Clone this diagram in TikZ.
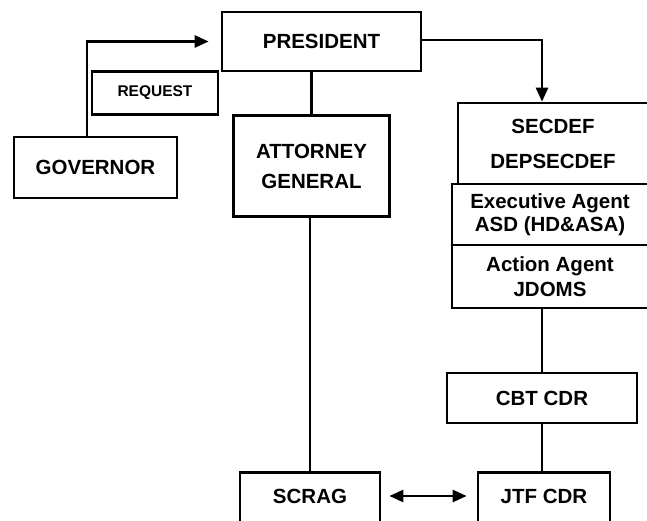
\documentclass[tikz,border=0pt]{standalone}
\usepackage{fontspec}
\setmainfont{Liberation Sans}
\usetikzlibrary{arrows.meta,calc}
\tikzset{
  box/.style={draw=black, line width=2.7pt, fill=white, inner sep=0pt, align=center,
    font=\fontsize{20.5}{30}\selectfont\bfseries},
  txt/.style={inner sep=0pt, align=center, font=\fontsize{20.5}{30}\selectfont\bfseries},
  conn/.style={draw=black, line width=2.7pt},
  arr/.style={conn, -{Triangle[length=14pt,width=12pt]}},
  dbl/.style={conn, {Triangle[length=14pt,width=12pt]}-{Triangle[length=14pt,width=12pt]}}
}
\begin{document}
\begin{tikzpicture}[x=1pt,y=-1pt]
\useasboundingbox (0,0) rectangle (647,521);
\clip (0,0) rectangle (647,521);
\fill[white] (0,0) rectangle (647,521);
% nodes
\node[box, minimum width=199pt, minimum height=59pt] (pres) at (321.5,41.5) {PRESIDENT};
\node[box, minimum width=126pt, minimum height=43pt, font=\fontsize{15.5}{18}\selectfont\bfseries] (req) at (155,93) {REQUEST};
\node[box, minimum width=163pt, minimum height=61pt] (gov) at (95.5,167.5) {GOVERNOR};
\node[box, minimum width=156pt, minimum height=101pt] (att) at (311.5,166) {ATTORNEY\\GENERAL};
\node[box, minimum width=190pt, minimum height=81pt, font=\fontsize{20.5}{35}\selectfont\bfseries] (sec) at (553,143.5) {SECDEF\\DEPSECDEF};
\node[box, minimum width=196pt, minimum height=61pt, font=\fontsize{20.5}{22.5}\selectfont\bfseries] (exe) at (550,214.5) {Executive Agent\\ASD (HD\&ASA)};
\node[box, minimum width=196pt, minimum height=63pt, font=\fontsize{20.5}{25}\selectfont\bfseries] (act) at (550,276.5) {Action Agent\\JDOMS};
\node[box, minimum width=190pt, minimum height=50pt] (cbt) at (542,398) {CBT CDR};
\node[box, minimum width=140pt, minimum height=62pt, anchor=north] (scrag) at (310,471) {};
\node[txt] (scragt) at (310,496) {SCRAG};
\node[box, minimum width=132pt, minimum height=62pt, anchor=north] (jtf) at (544,471) {};
\node[txt] (jtft) at (544,496) {JTF CDR};
% connectors
\draw[arr, shorten >=12pt] ([xshift=-8.5pt]gov.north) |- (pres.west);
\draw[arr] ([yshift=1.5pt]pres.east) -| (sec.north -| cbt.north);
\draw[conn] (att.north |- pres.south) -- (att.north);
\draw[conn] (scrag.north |- att.south) -- (scrag.north);
\draw[conn] (act.south -| cbt.north) -- (cbt.north);
\draw[conn] (cbt.south) -- (cbt.south |- jtf.north);
\draw[dbl, shorten <=8pt, shorten >=10pt] (scragt -| scrag.east) -- (jtft -| jtf.west);
\end{tikzpicture}
\end{document}
